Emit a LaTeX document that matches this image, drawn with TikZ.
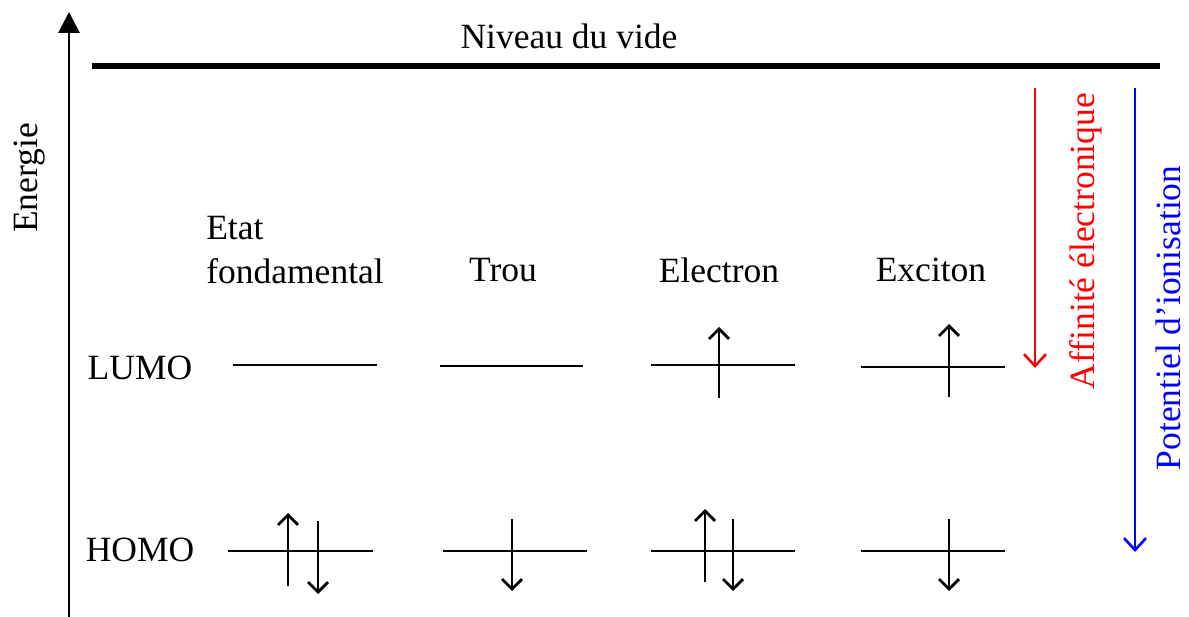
\documentclass[tikz,border=0pt]{standalone}
\usepackage{fontspec}
\setmainfont{Liberation Serif}
\usetikzlibrary{arrows.meta}
\begin{document}
\begin{tikzpicture}[x=1pt,y=-1pt,
  lbl/.style={inner sep=0pt,font=\fontsize{35.5}{44}\selectfont},
  level/.style={line width=2.8pt},
  spin/.style={line width=2.8pt,-{Straight Barb[length=10pt,width=20pt,line width=2.8pt]}},
  axis/.style={line width=2.8pt,-{Triangle[length=21pt,width=21pt]}},
  bigarrow/.style={line width=2.6pt,-{Straight Barb[length=12pt,width=22pt,line width=2.6pt]}}]
\useasboundingbox (0,0) rectangle (1189,617);
% energy axis
\coordinate (ax0) at (69,617);
\coordinate (ax1) at (69,12);
\draw[axis] (ax0) -- (ax1);
\node[lbl,rotate=90] (energie) at (30,178) {Energie};
% vacuum level
\coordinate (v0) at (92,66);
\coordinate (v1) at (1160,66);
\draw[line width=6pt] (v0) -- (v1);
\node[lbl] (vide) at (569,36) {Niveau du vide};
% column labels
\node[lbl,align=left] (etat) at (295,250) {Etat\\fondamental};
\node[lbl] (trou) at (503,270) {Trou};
\node[lbl] (electron) at (719,270) {Electron};
\node[lbl] (exciton) at (931,270) {Exciton};
\node[lbl] (lumo) at (140,368) {LUMO};
\node[lbl] (homo) at (140,550) {HOMO};
% levels
\coordinate (l1a) at (233,365); \coordinate (l1b) at (377,365);
\coordinate (l2a) at (440,366); \coordinate (l2b) at (583,366);
\coordinate (l3a) at (651,365); \coordinate (l3b) at (795,365);
\coordinate (l4a) at (861,367); \coordinate (l4b) at (1005,367);
\coordinate (h1a) at (228,551); \coordinate (h1b) at (373,551);
\coordinate (h2a) at (443,551); \coordinate (h2b) at (587,551);
\coordinate (h3a) at (651,551); \coordinate (h3b) at (795,551);
\coordinate (h4a) at (861,551); \coordinate (h4b) at (1005,551);
\foreach \a/\b in {l1a/l1b,l2a/l2b,l3a/l3b,l4a/l4b,h1a/h1b,h2a/h2b,h3a/h3b,h4a/h4b}
  \draw[level] (\a) -- (\b);
% spins
\coordinate (s1a) at (288,586); \coordinate (s1b) at (288,513);
\coordinate (s2a) at (318,521); \coordinate (s2b) at (318,594);
\coordinate (s3a) at (512,519); \coordinate (s3b) at (512,591);
\coordinate (s4a) at (719,398); \coordinate (s4b) at (719,327);
\coordinate (s5a) at (705,582); \coordinate (s5b) at (705,509);
\coordinate (s6a) at (733,519); \coordinate (s6b) at (733,591);
\coordinate (s7a) at (949,397); \coordinate (s7b) at (949,324);
\coordinate (s8a) at (949,519); \coordinate (s8b) at (949,591);
\foreach \a/\b in {s1a/s1b,s2a/s2b,s3a/s3b,s4a/s4b,s5a/s5b,s6a/s6b,s7a/s7b,s8a/s8b}
  \draw[spin] (\a) -- (\b);
% affinity and ionisation
\coordinate (ea0) at (1035,88); \coordinate (ea1) at (1035,368);
\draw[bigarrow,red] (ea0) -- (ea1);
\node[lbl,rotate=90,text=red] (aff) at (1086,241) {Affinité électronique};
\coordinate (ip0) at (1135,88); \coordinate (ip1) at (1135,552);
\draw[bigarrow,blue] (ip0) -- (ip1);
\node[lbl,rotate=90,text=blue] (pot) at (1168,318) {Potentiel d’ionisation};
\end{tikzpicture}
\end{document}
